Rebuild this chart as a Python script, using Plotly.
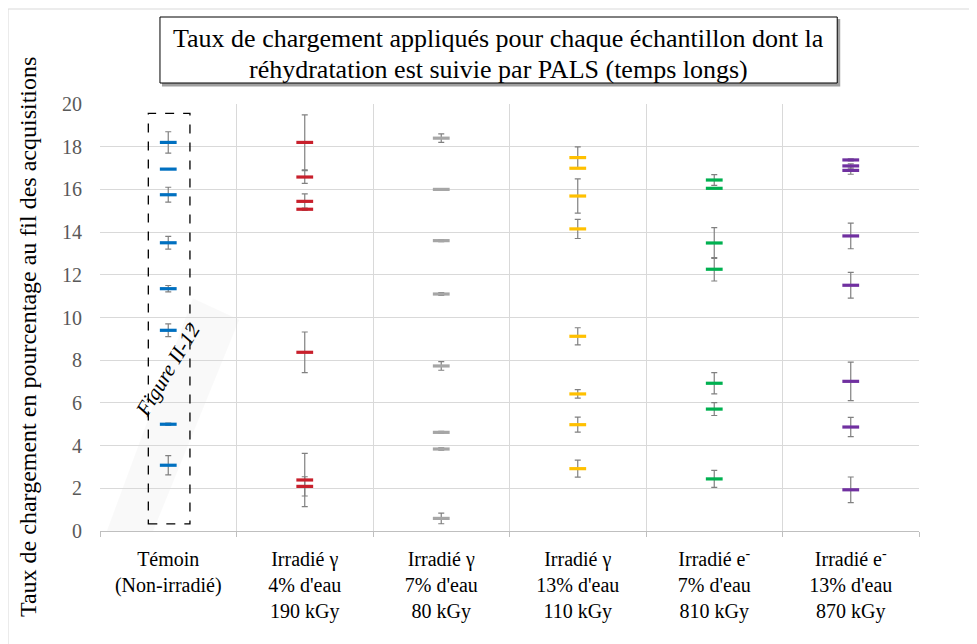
import plotly.graph_objects as go

# ---------------- data ----------------
categories = ["Témoin<br>(Non-irradié)",
              "Irradié γ<br>4% d'eau<br>190 kGy",
              "Irradié γ<br>7% d'eau<br>80 kGy",
              "Irradié γ<br>13% d'eau<br>110 kGy",
              "Irradié e<sup>-</sup><br>7% d'eau<br>810 kGy",
              "Irradié e<sup>-</sup><br>13% d'eau<br>870 kGy"]

temoin_vals = [18.2, 16.95, 15.75, 13.5, 11.35, 9.4, 5.0, 3.08]
temoin_err = [0.5, 0.0, 0.35, 0.3, 0.15, 0.3, 0.05, 0.45]

g4_vals = [18.2, 16.58, 15.44, 15.07, 8.37, 2.39, 2.09]
g4_err = [1.29, 0.3, 0.35, 0.05, 0.95, 1.25, 0.45]

g7_vals = [18.4, 16.0, 13.6, 11.1, 7.73, 4.62, 3.84, 0.59]
g7_err = [0.2, 0.0, 0.05, 0.07, 0.2, 0.05, 0.05, 0.25]

g13_vals = [17.49, 16.99, 15.69, 14.15, 9.12, 6.42, 4.98, 2.92]
g13_err = [0.5, 0.0, 0.8, 0.45, 0.4, 0.2, 0.35, 0.4]

e7_vals = [16.44, 16.05, 13.49, 12.26, 6.92, 5.71, 2.44]
e7_err = [0.25, 0.0, 0.72, 0.55, 0.5, 0.3, 0.4]

e13_vals = [17.38, 17.1, 16.89, 13.82, 11.51, 7.01, 4.87, 1.93]
e13_err = [0.05, 0.1, 0.18, 0.6, 0.6, 0.9, 0.45, 0.6]

series = [
    (temoin_vals, temoin_err, "#0070c0"),
    (g4_vals, g4_err, "#c8202c"),
    (g7_vals, g7_err, "#a6a6a6"),
    (g13_vals, g13_err, "#ffc000"),
    (e7_vals, e7_err, "#00b050"),
    (e13_vals, e13_err, "#7030a0"),
]

y_ticks = [0, 2, 4, 6, 8, 10, 12, 14, 16, 18, 20]

title_lines = ["Taux de chargement appliqués pour chaque échantillon dont la",
               "réhydratation est suivie par PALS (temps longs)"]
ytitle_text = "Taux de chargement en pourcentage au fil des acquisitions"

# ---------------- layout geometry ----------------
OFF = 8  # page body margin
W, H = 977 - OFF, 644 - OFF
L, R, T, B = 100 - OFF, 919.3 - OFF, 104 - OFF, 531 - OFF

def pxx(x):
    return (x - OFF - L) / (R - L)

def pxy(y):
    return (B - (y - OFF)) / (B - T)

SERIF = "Liberation Serif"

fig = go.Figure()

for i, (vals, errs, col) in enumerate(series):
    fig.add_trace(go.Scatter(
        x=[i] * len(vals), y=vals, mode="markers",
        marker=dict(symbol="line-ew", size=12, color=col,
                    line=dict(color=col, width=3.2)),
        error_y=dict(type="data", array=errs, visible=True,
                     color="#808080", thickness=1.2, width=3),
        showlegend=False, hoverinfo="y"))

boundaries = [i - 0.5 for i in range(len(categories) + 1)]

fig.update_layout(
    width=W, height=H,
    margin=dict(l=L, r=W - R, t=T, b=H - B),
    paper_bgcolor="white", plot_bgcolor="white",
    font=dict(family=SERIF),
    xaxis=dict(range=[-0.5, len(categories) - 0.5],
               tickvals=list(range(len(categories))), ticktext=categories,
               showgrid=False, zeroline=False, ticks="",
               showline=True, linecolor="#bfbfbf", linewidth=1,
               tickfont=dict(family=SERIF, size=20, color="black"),
               ticklabelstandoff=10,
               minor=dict(tickvals=boundaries, showgrid=True, gridcolor="#d9d9d9",
                          gridwidth=1, ticks="outside", ticklen=5,
                          tickcolor="#bfbfbf")),
    yaxis=dict(range=[0, 20], tickvals=y_ticks, showgrid=True, gridcolor="#d9d9d9",
               zeroline=False, showline=False, ticks="",
               tickfont=dict(family=SERIF, size=20, color="#595959"),
               ticklabelstandoff=17),
)

shapes = []
# outer chart border
shapes.append(dict(type="rect", xref="paper", yref="paper",
                   x0=pxx(8), x1=pxx(1000), y0=pxy(680), y1=pxy(9),
                   line=dict(color="#d9d9d9", width=1), layer="below"))
# faint diagonal band
shapes.append(dict(type="path", xref="x", yref="y",
                   path="M -0.45 0 L 0.18 10.9 L 0.52 9.9 L -0.11 0 Z",
                   fillcolor="rgba(0,0,0,0.022)", line=dict(width=0), layer="below"))
# dashed box
shapes.append(dict(type="rect", xref="x", yref="y",
                   x0=-0.146, x1=0.159, y0=0.33, y1=19.56,
                   line=dict(color="black", width=1.3, dash="dash"), layer="above"))
# title shadow + box
shapes.append(dict(type="rect", xref="paper", yref="paper",
                   x0=pxx(162), x1=pxx(840.5), y0=pxy(86.5), y1=pxy(19),
                   fillcolor="#a0a0a0", line=dict(width=0)))
shapes.append(dict(type="rect", xref="paper", yref="paper",
                   x0=pxx(160), x1=pxx(837.5), y0=pxy(83), y1=pxy(17),
                   fillcolor="white", line=dict(color="black", width=1)))
fig.update_layout(shapes=shapes)

annotations = [
    dict(text=title_lines[0], xref="paper", yref="paper",
         x=pxx(499), y=pxy(38.5), xanchor="center", yanchor="middle",
         showarrow=False, font=dict(family=SERIF, size=26, color="black")),
    dict(text=title_lines[1], xref="paper", yref="paper",
         x=pxx(499), y=pxy(69.5), xanchor="center", yanchor="middle",
         showarrow=False, font=dict(family=SERIF, size=26, color="black")),
    dict(text=ytitle_text, xref="paper", yref="paper",
         x=pxx(28), y=pxy(337), xanchor="center", yanchor="middle",
         textangle=-90, showarrow=False,
         font=dict(family=SERIF, size=24, color="black")),
    dict(text="<i>Figure II-12</i>", xref="x", yref="y", x=-0.005, y=7.56,
         textangle=-59, showarrow=False,
         font=dict(family=SERIF, size=21, color="black")),
]
fig.update_layout(annotations=annotations)

fig.write_html("out.html")
